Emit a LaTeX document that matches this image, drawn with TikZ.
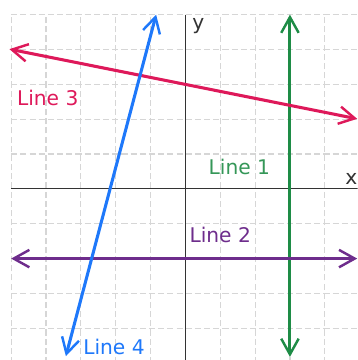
\documentclass[tikz,border=0pt]{standalone}
\usepackage{fontspec}
\setmainfont{DejaVu Sans}
\usetikzlibrary{arrows.meta}
\definecolor{lineone}{RGB}{30,140,70}
\definecolor{linetwo}{RGB}{110,45,140}
\definecolor{linethree}{RGB}{222,25,90}
\definecolor{linefour}{RGB}{30,120,250}

\begin{document}
\begin{tikzpicture}[
    gridline/.style={gray!32, line width=0.9pt, dash pattern=on 5pt off 2.5pt},
    axis/.style={black!80, line width=0.7pt},
    plotline/.style={line width=2.5pt, {Straight Barb[length=4.5mm, width=5mm, line width=2pt]}-{Straight Barb[length=4.5mm, width=5mm, line width=2pt]}},
    lbl/.style={font=\fontsize{16.5}{19}\selectfont, inner sep=0pt}
]
\useasboundingbox (-5.32,-4.91) rectangle (4.94,5.42);
\begin{scope}
\clip (-5.32,-4.91) rectangle (4.94,5.42);
\draw[gridline] (-5,-5) grid (5.5,5);
\draw[axis] (-5,0) -- (5.5,0);
\draw[axis] (0,5) -- (0,-5.5);
\end{scope}
\node[lbl, black!80] (ylabel) at (0.37,4.68) {y};
\node[lbl, black!80] (xlabel) at (4.76,0.28) {x};

% end points
\coordinate (l1top) at (3,5);
\coordinate (l1bot) at (3,-4.82);
\coordinate (l2left) at (-5,-2);
\coordinate (l2right) at (4.93,-2);
\coordinate (l3left) at (-5.05,4.01);
\coordinate (l3right) at (4.93,2.01);
\coordinate (l4top) at (-0.84,5.0);
\coordinate (l4bot) at (-3.43,-4.8);

\draw[plotline, lineone] (l1bot) -- (l1top);
\draw[plotline, linetwo] (l2left) -- (l2right);
\draw[plotline, linethree] (l3left) -- (l3right);
\draw[plotline, linefour] (l4bot) -- (l4top);

\node[lbl, lineone!90] (lab1) at (1.55,0.62) {Line 1};
\node[lbl, linetwo] (lab2) at (1.0,-1.33) {Line 2};
\node[lbl, linethree] (lab3) at (-3.95,2.6) {Line 3};
\node[lbl, linefour] (lab4) at (-2.05,-4.55) {Line 4};
\end{tikzpicture}
\end{document}
